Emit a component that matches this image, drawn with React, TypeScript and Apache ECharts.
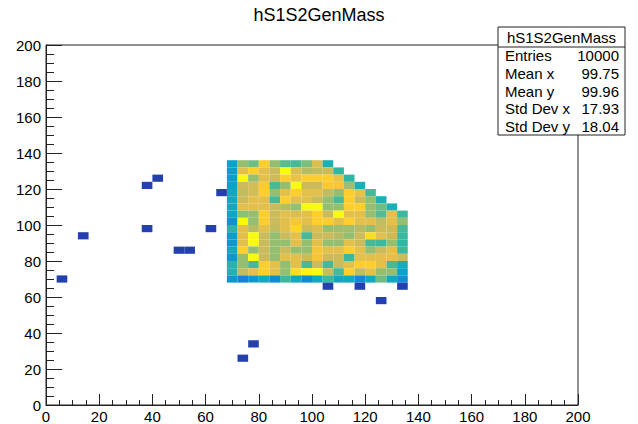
import React, { useEffect, useRef } from "react";
import * as echarts from "echarts";

// 2D histogram hS1S2GenMass: 50 x 50 bins on [0, 200] x [0, 200], bin width 4
const BIN = 4;

// Low edges of the populated block (columns left to right, rows top to bottom)
const blockX = [68, 72, 76, 80, 84, 88, 92, 96, 100, 104, 108, 112, 116, 120, 124, 128, 132];
const blockY = [132, 128, 124, 120, 116, 112, 108, 104, 100, 96, 92, 88, 84, 80, 76, 72, 68];

// Bin contents per row of the block (row i starts at blockX[0])
const row132 = [18, 33, 30, 46, 33, 28, 27, 31, 40, 22];
const row128 = [17, 41, 46, 41, 38, 52, 40, 36, 37, 38, 25];
const row124 = [17, 52, 33, 41, 38, 46, 42, 46, 46, 46, 42, 25];
const row120 = [18, 38, 39, 45, 27, 33, 52, 38, 38, 45, 44, 34, 22];
const row116 = [20, 37, 39, 46, 33, 41, 46, 41, 41, 37, 33, 46, 42, 27];
const row112 = [20, 38, 41, 41, 27, 46, 41, 41, 38, 33, 27, 46, 38, 33, 22];
const row108 = [20, 41, 41, 41, 38, 36, 33, 52, 52, 33, 33, 46, 46, 33, 30, 22];
const row104 = [19, 32, 33, 46, 38, 41, 40, 41, 46, 38, 52, 41, 41, 33, 28, 41, 26];
const row100 = [15, 52, 33, 46, 38, 41, 44, 41, 46, 46, 41, 46, 41, 41, 37, 41, 33];
const row96 = [24, 41, 36, 41, 37, 41, 47, 38, 40, 33, 34, 34, 36, 33, 38, 38, 27];
const row92 = [17, 41, 52, 38, 33, 38, 41, 27, 38, 38, 36, 33, 38, 48, 41, 38, 26];
const row88 = [16, 41, 52, 38, 33, 33, 41, 33, 41, 33, 33, 41, 38, 27, 26, 33, 25];
const row84 = [20, 46, 33, 38, 33, 38, 33, 33, 44, 41, 41, 46, 41, 33, 38, 41, 26];
const row80 = [16, 33, 52, 38, 33, 41, 41, 38, 44, 38, 38, 26, 41, 41, 41, 41, 38];
const row76 = [24, 33, 27, 46, 41, 33, 41, 27, 38, 27, 38, 41, 46, 46, 41, 27, 21];
const row72 = [23, 37, 41, 46, 41, 33, 48, 51, 52, 38, 27, 46, 37, 41, 33, 33, 18];
const row68 = [16, 12, 16, 20, 13, 26, 20, 13, 20, 26, 20, 20, 13, 20, 30, 20, 14];

const blockRows = [
  row132, row128, row124, row120, row116, row112, row108, row104, row100,
  row96, row92, row88, row84, row80, row76, row72, row68,
];

// Isolated single-entry bins (low edges)
const strayX = [4, 12, 36, 36, 40, 48, 52, 60, 64, 104, 116, 132, 124, 76, 72];
const strayY = [68, 92, 96, 120, 124, 84, 84, 96, 116, 64, 64, 64, 56, 32, 24];
const strayCounts = [1, 1, 1, 1, 1, 1, 1, 1, 1, 1, 1, 1, 1, 1, 1];

// Statistics box
const statNames = ["Entries", "Mean x", "Mean y", "Std Dev x", "Std Dev y"];
const statValues = ["10000", "99.75", "99.96", "17.93", "18.04"];

const TITLE = "hS1S2GenMass";
const FONT = "'Liberation Sans', Arial, Helvetica, sans-serif";

// kBird palette stops
const bird = [
  "#352a87", "#0f5cdd", "#1481d6", "#06a4ca", "#2eb7a4",
  "#87bf77", "#d1bb59", "#fec832", "#f9fb0e",
];

function buildCells(): number[][] {
  const cells: number[][] = [];
  blockRows.forEach((row, i) => {
    row.forEach((count, j) => {
      cells.push([blockX[j], blockY[i], count]);
    });
  });
  strayX.forEach((x, k) => {
    cells.push([x, strayY[k], strayCounts[k]]);
  });
  return cells;
}

export default function App() {
  const ref = useRef<HTMLDivElement>(null);

  useEffect(() => {
    if (!ref.current) return;
    const chart = echarts.init(ref.current, undefined, { renderer: "svg" });

    const axisCommon = {
      type: "value" as const,
      min: 0,
      max: 200,
      interval: 20,
      axisLine: { show: true, lineStyle: { color: "#222", width: 1 } },
      splitLine: { show: false },
      axisLabel: { color: "#000", fontSize: 15, fontFamily: FONT },
    };

    const statsLeft = 498;
    const statsTop = 27;
    const statsW = 127;
    const headerH = 20;
    const rowH = 17.6;

    const statTexts: any[] = [];
    statNames.forEach((name, i) => {
      const cy = statsTop + headerH + rowH * (i + 0.5);
      statTexts.push({
        type: "text",
        x: statsLeft + 7,
        y: cy,
        style: {
          text: name,
          fill: "#000",
          font: `15px ${FONT}`,
          textAlign: "left",
          textVerticalAlign: "middle",
        },
      });
      statTexts.push({
        type: "text",
        x: statsLeft + statsW - 6,
        y: cy,
        style: {
          text: statValues[i],
          fill: "#000",
          font: `15px ${FONT}`,
          textAlign: "right",
          textVerticalAlign: "middle",
        },
      });
    });

    chart.setOption({
      animation: false,
      backgroundColor: "#fff",
      grid: {
        left: 46,
        right: 60,
        top: 45,
        bottom: 19,
        show: true,
        borderColor: "#222",
        borderWidth: 1,
        backgroundColor: "transparent",
      },
      xAxis: {
        ...axisCommon,
        axisTick: { show: true, inside: true, length: 11, lineStyle: { color: "#222" } },
        minorTick: { show: true, splitNumber: 4, length: 5, lineStyle: { color: "#222" } },
        axisLabel: { ...axisCommon.axisLabel, margin: 4 },
      },
      yAxis: {
        ...axisCommon,
        axisTick: { show: true, inside: true, length: 16, lineStyle: { color: "#222" } },
        minorTick: { show: true, splitNumber: 4, length: 8, lineStyle: { color: "#222" } },
        axisLabel: { ...axisCommon.axisLabel, margin: 5 },
      },
      visualMap: {
        show: false,
        type: "continuous",
        dimension: 2,
        seriesIndex: 0,
        min: -2,
        max: 52,
        inRange: { color: bird },
      },
      series: [
        {
          type: "custom",
          coordinateSystem: "cartesian2d",
          encode: { x: 0, y: 1 },
          data: buildCells(),
          renderItem: (params: any, api: any) => {
            const x0 = api.value(0);
            const y0 = api.value(1);
            const p1 = api.coord([x0, y0 + BIN]);
            const p2 = api.coord([x0 + BIN, y0]);
            return {
              type: "rect",
              shape: {
                x: p1[0],
                y: p1[1],
                width: p2[0] - p1[0],
                height: p2[1] - p1[1],
              },
              style: { fill: api.visual("color"), stroke: null },
            };
          },
        },
      ],
      graphic: [
        {
          type: "text",
          x: 319,
          y: 15,
          style: {
            text: TITLE,
            fill: "#000",
            font: `18px ${FONT}`,
            textAlign: "center",
            textVerticalAlign: "middle",
          },
        },
        {
          type: "rect",
          shape: { x: statsLeft, y: statsTop, width: statsW, height: headerH + rowH * 5 },
          style: { fill: "#fff", stroke: "#222", lineWidth: 1 },
          z: 10,
        },
        {
          type: "line",
          shape: {
            x1: statsLeft,
            y1: statsTop + headerH,
            x2: statsLeft + statsW,
            y2: statsTop + headerH,
          },
          style: { stroke: "#222", lineWidth: 1 },
          z: 11,
        },
        {
          type: "text",
          x: statsLeft + statsW / 2,
          y: statsTop + headerH / 2,
          z: 11,
          style: {
            text: TITLE,
            fill: "#000",
            font: `15px ${FONT}`,
            textAlign: "center",
            textVerticalAlign: "middle",
          },
        },
        ...statTexts.map((t) => ({ ...t, z: 11 })),
      ],
    });

    return () => chart.dispose();
  }, []);

  return (
    <div
      ref={ref}
      style={{ position: "fixed", left: 0, top: 0, width: 638, height: 424 }}
    />
  );
}
